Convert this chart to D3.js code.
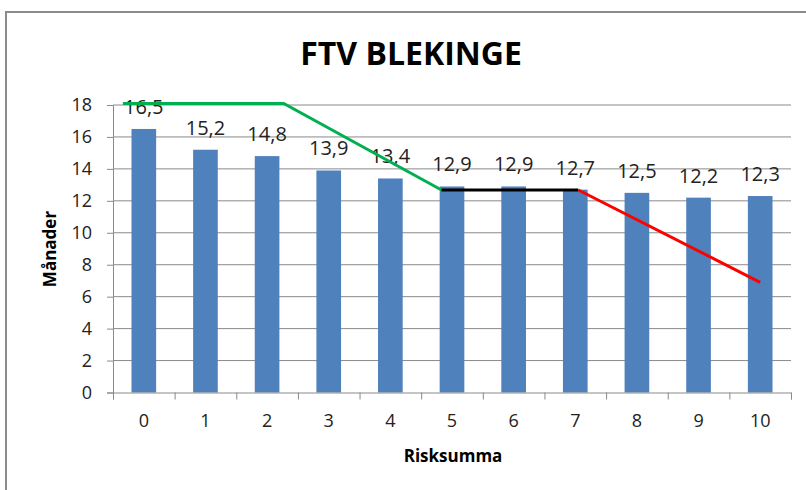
<!DOCTYPE html>
<html>
<head>
<meta charset="utf-8">
<script src="https://cdn.jsdelivr.net/npm/d3@7"></script>
<style>
    body { margin: 0; background: #fff; }
    #chart { width: 806px; height: 490px; }
    text { font-family: "Open Sans", sans-serif; }
</style>
</head>
<body>
<div id="chart"></div>
<script>
// Chart data
const categories = ["0", "1", "2", "3", "4", "5", "6", "7", "8", "9", "10"];
const values = [16.5, 15.2, 14.8, 13.9, 13.4, 12.9, 12.9, 12.7, 12.5, 12.2, 12.3];
const yTicks = [0, 2, 4, 6, 8, 10, 12, 14, 16, 18];

// Hand drawn trend lines, [category index, months]
const greenLine = [[-0.34, 18.1], [2.27, 18.1], [4.83, 12.68]];
const blackLine = [[4.83, 12.68], [7.05, 12.68]];
const redLine = [[7.05, 12.68], [10.0, 6.9]];

const width = 806, height = 490;
const plot = { left: 113, right: 791, top: 105, bottom: 392.5 };

const svg = d3.select("#chart").append("svg")
    .attr("width", width)
    .attr("height", height);

// Chart frame (only left and top edge visible)
svg.append("rect")
    .attr("x", 6).attr("y", 12)
    .attr("width", 900).attr("height", 600)
    .attr("fill", "none")
    .attr("stroke", "#8c8c8c")
    .attr("stroke-width", 2);

// Scales
const x = d3.scaleBand()
    .domain(categories)
    .range([plot.left, plot.right])
    .paddingInner(0.6)
    .paddingOuter(0.3);

const xLin = d3.scaleLinear()
    .domain([-0.5, categories.length - 0.5])
    .range([plot.left, plot.right]);

const y = d3.scaleLinear()
    .domain([0, 18])
    .range([plot.bottom, plot.top]);

// Gridlines
svg.append("g")
    .selectAll("line")
    .data(yTicks.filter(d => d > 0))
    .enter().append("line")
    .attr("x1", plot.left).attr("x2", plot.right)
    .attr("y1", d => y(d)).attr("y2", d => y(d))
    .attr("stroke", "#8a8a8a")
    .attr("stroke-width", 1);

// Y axis
const yAxis = svg.append("g")
    .attr("transform", `translate(${plot.left},0)`)
    .call(d3.axisLeft(y).tickValues(yTicks).tickSize(6).tickPadding(15));
yAxis.select(".domain").attr("stroke", "#8a8a8a");
yAxis.selectAll(".tick line").attr("stroke", "#8a8a8a");
yAxis.selectAll("text")
    .attr("font-size", 18)
    .attr("font-family", "Open Sans, sans-serif")
    .attr("fill", "#222");

// Bars
svg.append("g")
    .selectAll("rect")
    .data(values)
    .enter().append("rect")
    .attr("x", (d, i) => x(categories[i]))
    .attr("width", x.bandwidth())
    .attr("y", d => y(d))
    .attr("height", d => y(0) - y(d))
    .attr("fill", "#4f81bd");

// X axis: tick marks at category boundaries
const xTickAxis = svg.append("g")
    .attr("transform", `translate(0,${plot.bottom})`)
    .call(d3.axisBottom(xLin).tickValues(d3.range(-0.5, categories.length)).tickSize(7).tickFormat(""));
xTickAxis.select(".domain").attr("stroke", "#8a8a8a");
xTickAxis.selectAll(".tick line").attr("stroke", "#8a8a8a");

// X axis labels
const xLabelAxis = svg.append("g")
    .attr("transform", `translate(0,${plot.bottom})`)
    .call(d3.axisBottom(x).tickSize(0).tickPadding(22));
xLabelAxis.select(".domain").remove();
xLabelAxis.selectAll("text")
    .attr("font-size", 18)
    .attr("font-family", "Open Sans, sans-serif")
    .attr("fill", "#222");

// Value labels
svg.append("g")
    .selectAll("text")
    .data(values)
    .enter().append("text")
    .attr("x", (d, i) => x(categories[i]) + x.bandwidth() / 2)
    .attr("y", d => y(d) - 15)
    .attr("text-anchor", "middle")
    .attr("font-size", 20)
    .attr("fill", "#222")
    .text(d => d.toFixed(1).replace(".", ","));

// Trend lines
const line = d3.line()
    .x(d => xLin(d[0]))
    .y(d => y(d[1]));

[[greenLine, "#00b050"], [blackLine, "#000000"], [redLine, "#ff0000"]].forEach(function(l) {
    svg.append("path")
        .datum(l[0])
        .attr("d", line)
        .attr("fill", "none")
        .attr("stroke", l[1])
        .attr("stroke-width", 3);
});

// Titles
svg.append("text")
    .attr("x", 411).attr("y", 65)
    .attr("text-anchor", "middle")
    .attr("font-size", 32)
    .attr("font-weight", "bold")
    .attr("fill", "#000")
    .text("FTV BLEKINGE");

svg.append("text")
    .attr("transform", "translate(56,249) rotate(-90)")
    .attr("text-anchor", "middle")
    .attr("font-size", 17)
    .attr("font-weight", "bold")
    .attr("fill", "#000")
    .text("Månader");

svg.append("text")
    .attr("x", 453).attr("y", 462)
    .attr("text-anchor", "middle")
    .attr("font-size", 17)
    .attr("font-weight", "bold")
    .attr("fill", "#000")
    .text("Risksumma");
</script>
</body>
</html>
